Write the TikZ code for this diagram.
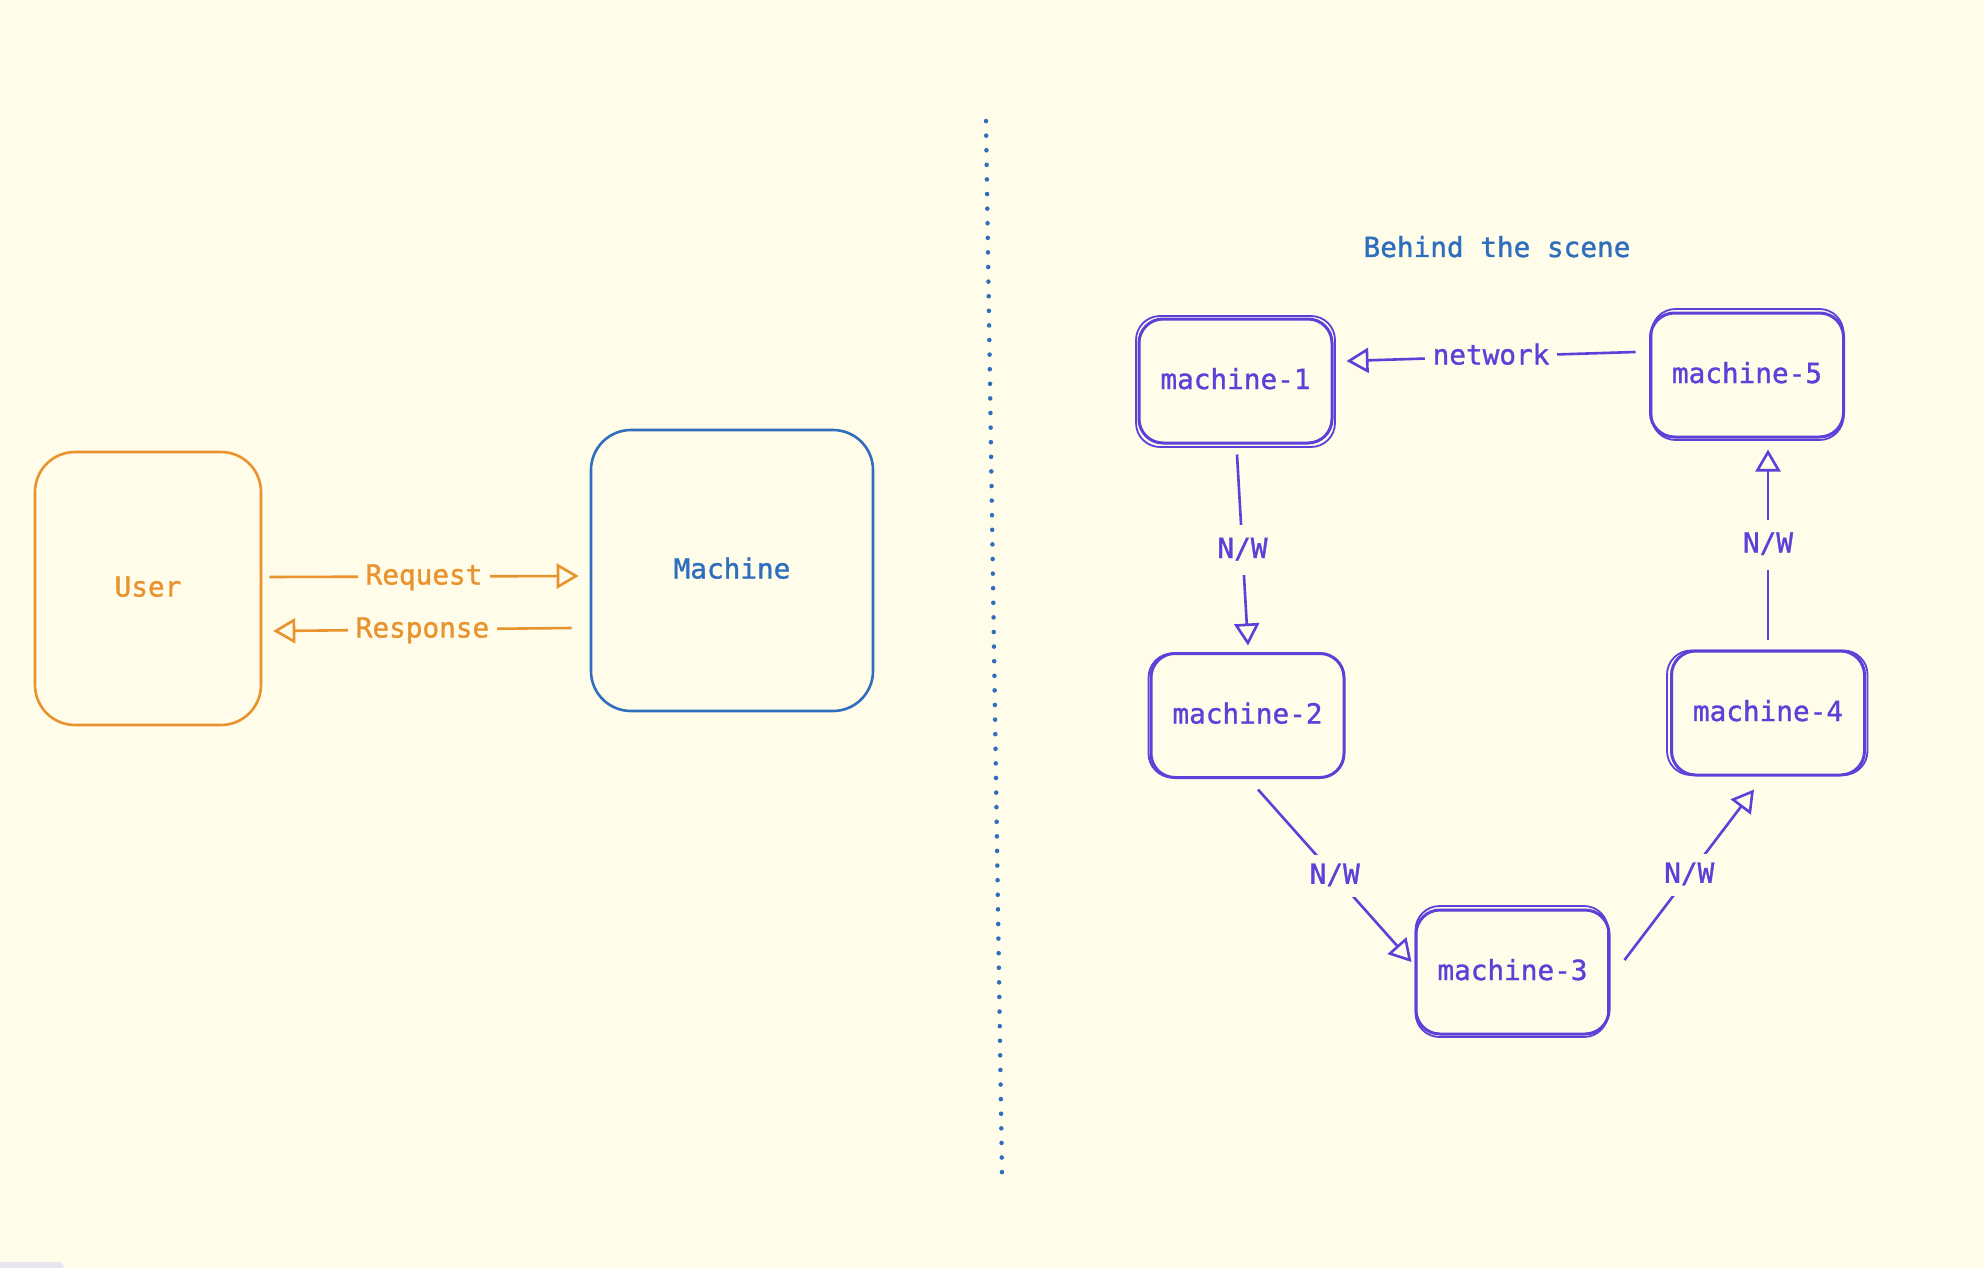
\documentclass[tikz,border=0pt]{standalone}
\usepackage{fontspec}
\setmonofont[FakeBold=1.2]{DejaVu Sans Mono}
\usetikzlibrary{arrows.meta,calc}
\definecolor{bg}{HTML}{FFFCEA}
\definecolor{usr}{HTML}{E8932E}
\definecolor{mach}{HTML}{2F6EBD}
\definecolor{net}{HTML}{5C40D8}
\definecolor{corner}{HTML}{E6E6EC}
\tikzset{
  lbl/.style={font=\fontsize{27.7}{32}\selectfont\ttfamily, text height=21pt, text depth=5pt},
  bigbox/.style={draw, line width=2.6pt, rounded corners=40pt, lbl},
  mbox/.style={draw=net, text=net, line width=3pt, rounded corners=24pt,
    minimum width=193pt, minimum height=124pt, lbl},
  sketchline/.style={draw=net, line width=1.8pt, rounded corners=24pt},
  link/.style={line width=2.6pt, -{Triangle[open, length=22pt, width=25pt, line width=2.6pt]}},
  tag/.style={lbl, fill=bg, inner xsep=8pt, inner ysep=8pt},
}
\newcommand{\sketchbox}[5]{%
  \draw[sketchline] ([shift={(#2,#3)}]#1.north west) rectangle ([shift={(#4,#5)}]#1.south east);}
\begin{document}
\begin{tikzpicture}[x=1pt, y=-1pt]
  \fill[bg] (0,0) rectangle (1984,1268);
  \useasboundingbox (0,0) rectangle (1984,1268);
  \fill[corner, rounded corners=6pt] (-10,1262) rectangle (64,1278);

  % client and server
  \node[bigbox, draw=usr, text=usr, minimum width=226pt, minimum height=273pt] (user) at (148,588.5) {User};
  \node[bigbox, draw=mach, text=mach, minimum width=282pt, minimum height=281pt] (machine) at (732,570.5) {Machine};

  \draw[link, usr] ([shift={(7,-11.5)}]user.east) -- node[tag, text=usr] {Request} ([shift={(-11,5.5)}]machine.west);
  \draw[link, usr] ([shift={(-18,57.5)}]machine.west) -- node[tag, text=usr] {Response} ([shift={(11,42.5)}]user.east);

  % divider
  \draw[mach, line width=4.5pt, line cap=round, dash pattern=on 0.1pt off 14.5pt] (986,121) -- (1002,1174);

  \node[lbl, text=mach] (title) at (1497,249) {Behind the scene};

  % the machines behind the scene
  \node[mbox] (m1) at (1235.5,381) {machine-1};
  \node[mbox] (m5) at (1747,375) {machine-5};
  \node[mbox] (m2) at (1247.5,715.5) {machine-2};
  \node[mbox] (m4) at (1768,713) {machine-4};
  \node[mbox] (m3) at (1512.5,972) {machine-3};

  \sketchbox{m1}{-1.5}{-1.5}{1.5}{2.5}
  \sketchbox{m5}{2.5}{-2.5}{-1.5}{1.5}
  \sketchbox{m2}{-1}{1.5}{-1.5}{-1.5}
  \sketchbox{m4}{-3}{1}{1.5}{-1.5}
  \sketchbox{m3}{1}{-2.5}{-2.5}{1.5}

  \draw[link, net] ([shift={(-13.5,-23)}]m5.west) -- node[tag, text=net] {network} ([shift={(13,-20)}]m1.east);
  \draw[link, net] ([shift={(1.5,10)}]m1.south) -- node[tag, text=net, inner ysep=12pt] {N/W} ([shift={(0.5,-6.5)}]m2.north);
  \draw[link, net] ([shift={(10.5,10.5)}]m2.south) -- node[tag, text=net] {N/W} ([shift={(-3,-10)}]m3.west);
  \draw[link, net] ([shift={(14,-12)}]m3.east) -- node[tag, text=net] {N/W} ([shift={(-14,13)}]m4.south);
  \draw[link, net] ([shift={(0,-10)}]m4.north) -- node[tag, text=net, inner ysep=12pt] {N/W} ([shift={(21,11)}]m5.south);
\end{tikzpicture}
\end{document}
